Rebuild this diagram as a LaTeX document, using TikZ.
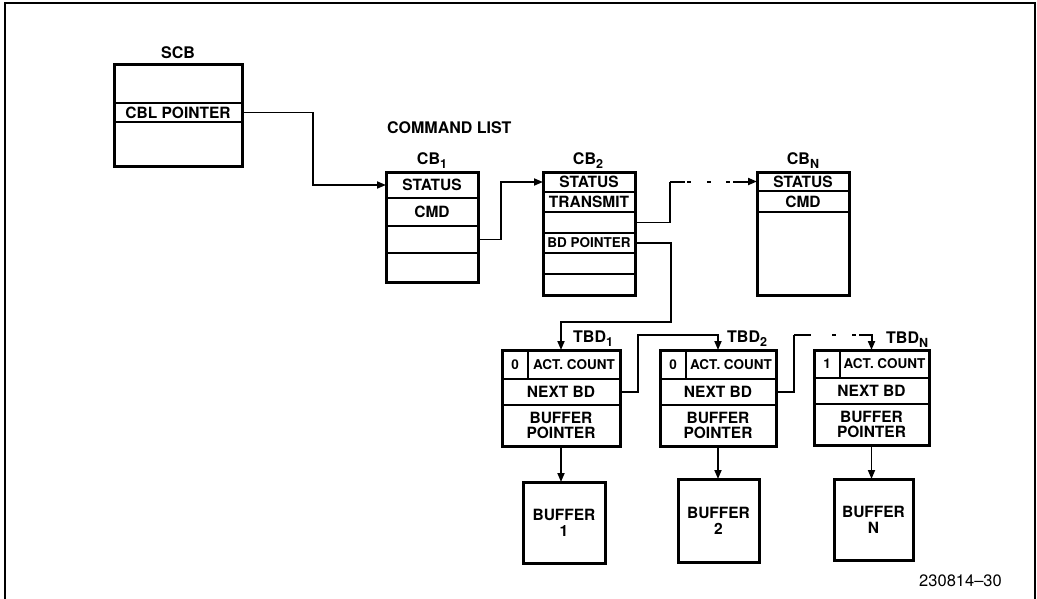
\documentclass[tikz,border=0pt]{standalone}
\usepackage{fontspec}
\setmainfont{TeX Gyre Heros}
\usetikzlibrary{arrows.meta}
\newcommand\mysub[1]{\raisebox{-0.45ex}{\fontsize{12.5}{12}\selectfont #1}}
\begin{document}
\begin{tikzpicture}[x=1pt,y=-1pt,
  box/.style={draw, line width=3pt, inner sep=0pt, outer sep=0pt, anchor=north west},
  cell/.style={draw, line width=2.2pt, inner sep=0pt, outer sep=0pt, anchor=north west,
    font=\fontsize{15.5}{15}\selectfont\bfseries, align=center},
  small/.style={font=\fontsize{13.5}{13}\selectfont\bfseries},
  lbl/.style={font=\fontsize{16}{15}\selectfont\bfseries, inner sep=0pt},
  conn/.style={line width=1.7pt},
  arr/.style={conn, -{Triangle[length=9pt,width=7pt]}},
]
\useasboundingbox (0,0) rectangle (1037,598);
% frame
\draw[line width=2.2pt] (5,605) -- (5,3) -- (1035,3) -- (1035,605);

% SCB
\node[cell, minimum width=128pt, minimum height=39pt] (scb1) at (114,64) {};
\node[cell, minimum width=128pt, minimum height=19pt] (scbp) at (114,103) {CBL POINTER};
\node[cell, minimum width=128pt, minimum height=44pt] (scb3) at (114,122) {};
\node[box, minimum width=128pt, minimum height=102pt] (scb) at (114,64) {};
\node[lbl] (scbl) at (178,53) {SCB};

\node[lbl, anchor=west] (cl) at (387,128) {COMMAND LIST};

% CB1
\node[cell, minimum width=92pt, minimum height=26pt] (cb1s) at (386,172) {STATUS};
\node[cell, minimum width=92pt, minimum height=28pt] (cb1m) at (386,198) {CMD};
\node[cell, minimum width=92pt, minimum height=27pt] (cb1c) at (386,226) {};
\node[cell, minimum width=92pt, minimum height=29pt] (cb1d) at (386,253) {};
\node[box, minimum width=92pt, minimum height=110pt] (cb1) at (386,172) {};
\node[lbl] (cb1l) at (432,161) {CB\mysub{1}};

% CB2
\node[cell, minimum width=92pt, minimum height=20pt] (cb2s) at (543,172) {STATUS};
\node[cell, minimum width=92pt, minimum height=20pt] (cb2t) at (543,192) {TRANSMIT};
\node[cell, minimum width=92pt, minimum height=21pt] (cb2e) at (543,212) {};
\node[cell, small, minimum width=92pt, minimum height=20pt] (cb2bd) at (543,233) {BD POINTER};
\node[cell, minimum width=92pt, minimum height=21pt] (cb2f) at (543,253) {};
\node[cell, minimum width=92pt, minimum height=21pt] (cb2g) at (543,274) {};
\node[box, minimum width=92pt, minimum height=123pt] (cb2) at (543,172) {};
\node[lbl] (cb2l) at (588,161) {CB\mysub{2}};

% CBN
\node[cell, minimum width=92pt, minimum height=19pt] (cbns) at (757,172) {STATUS};
\node[cell, minimum width=92pt, minimum height=21pt] (cbnm) at (757,191) {CMD};
\node[cell, minimum width=92pt, minimum height=83pt] (cbne) at (757,212) {};
\node[box, minimum width=92pt, minimum height=123pt] (cbn) at (757,172) {};
\node[lbl] (cbnl) at (803,161) {CB\mysub{N}};

% TBD1
\node[cell, small, minimum width=26pt, minimum height=29pt] (tbd1z) at (502,350) {0};
\node[cell, small, minimum width=92pt, minimum height=29pt] (tbd1a) at (528,350) {ACT. COUNT};
\node[cell, minimum width=118pt, minimum height=26pt] (tbd1n) at (502,379) {NEXT BD};
\node[cell, minimum width=118pt, minimum height=41pt] (tbd1b) at (502,405) {BUFFER\\POINTER};
\node[box, minimum width=118pt, minimum height=96pt] (tbd1) at (502,350) {};
\node[lbl, anchor=west] (tbd1l) at (573,339) {TBD\mysub{1}};

% TBD2
\node[cell, small, minimum width=26pt, minimum height=29pt] (tbd2z) at (660,350) {0};
\node[cell, small, minimum width=90pt, minimum height=29pt] (tbd2a) at (686,350) {ACT. COUNT};
\node[cell, minimum width=116pt, minimum height=26pt] (tbd2n) at (660,379) {NEXT BD};
\node[cell, minimum width=116pt, minimum height=41pt] (tbd2b) at (660,405) {BUFFER\\POINTER};
\node[box, minimum width=116pt, minimum height=96pt] (tbd2) at (660,350) {};
\node[lbl, anchor=west] (tbd2l) at (727,339) {TBD\mysub{2}};

% TBDN
\node[cell, small, minimum width=26pt, minimum height=28pt] (tbdNz) at (814,350) {1};
\node[cell, small, minimum width=89pt, minimum height=28pt] (tbdNa) at (840,350) {ACT. COUNT};
\node[cell, minimum width=115pt, minimum height=26pt] (tbdNn) at (814,378) {NEXT BD};
\node[cell, minimum width=115pt, minimum height=41pt] (tbdNb) at (814,404) {BUFFER\\POINTER};
\node[box, minimum width=115pt, minimum height=95pt] (tbdN) at (814,350) {};
\node[lbl, anchor=west] (tbdNl) at (886,340) {TBD\mysub{N}};

% Buffers
\node[box, font=\fontsize{15.5}{16}\selectfont\bfseries, align=center, minimum width=82pt, minimum height=81pt] (b1) at (523,482) {BUFFER\\1};
\node[box, font=\fontsize{15.5}{16}\selectfont\bfseries, align=center, minimum width=81pt, minimum height=83pt] (b2) at (678,479) {BUFFER\\2};
\node[box, font=\fontsize{15.5}{16}\selectfont\bfseries, align=center, minimum width=79pt, minimum height=81pt] (bN) at (834,479) {BUFFER\\N};

% connectors
\draw[arr] (scbp.east) -- ++(71,0) |- (cb1s.west);
\draw[arr] (cb1c.east) -- ++(23,0) |- (cb2s.west);
\draw[conn] (cb2e.east) -- ++(35,0) coordinate (k1) -- (k1 |- cbns.west) coordinate (k2);
\draw[arr, line width=2pt, dash pattern=on 15pt off 2pt on 4pt off 16pt on 4pt off 15pt on 4pt off 3pt on 60pt] (k2) -- (cbns.west);
\draw[arr] (cb2bd.east) -- ++(36,0) -- ++(0,79) -| (tbd1.north);
\draw[arr] (tbd1n.east) -- ++(18,0) -- ++(0,-57) -| (tbd2.north);
\draw[conn] (tbd2n.east) -- ++(18,0) coordinate (k3) -- ++(0,-57) coordinate (k4);
\draw[arr, line width=2pt, dash pattern=on 17pt off 21pt on 4pt off 16pt on 4pt off 3pt on 60pt] (k4) -| (tbdN.north);
\draw[arr] (tbd1.south) -- (tbd1.south |- b1.north);
\draw[arr] (tbd2.south) -- (tbd2.south |- b2.north);
\draw[arr] (tbdN.south) -- (tbdN.south |- bN.north);

\node[font=\fontsize{16.5}{16}\selectfont, anchor=east, inner sep=0pt] (num) at (1002,581) {230814--30};
\end{tikzpicture}
\end{document}
